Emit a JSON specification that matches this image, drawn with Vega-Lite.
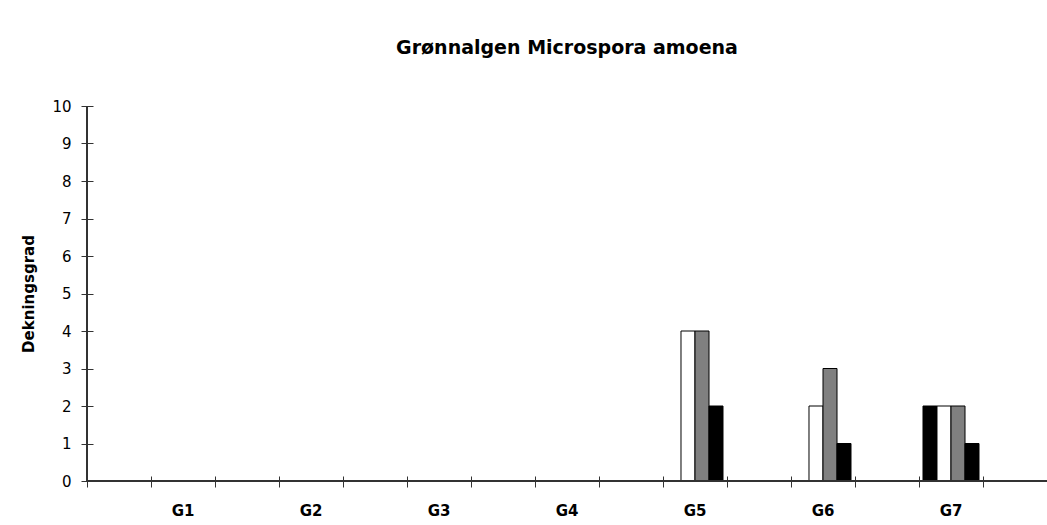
{
  "$schema": "https://vega.github.io/schema/vega-lite/v6.json",
  "autosize": {"type": "none"},
  "width": 960,
  "height": 375,
  "padding": {"left": 87, "top": 106, "right": 0, "bottom": 44},
  "background": "white",
  "title": {
    "text": "Grønnalgen Microspora amoena",
    "font": "DejaVu Sans",
    "fontSize": 19,
    "fontWeight": "bold",
    "color": "black",
    "anchor": "middle",
    "frame": "group",
    "baseline": "alphabetic",
    "offset": 26
  },
  "config": {
    "view": {"stroke": null},
    "axis": {
      "labelFont": "DejaVu Sans",
      "titleFont": "DejaVu Sans",
      "labelColor": "black",
      "titleColor": "black",
      "tickColor": "#333",
      "domain": false,
      "grid": false
    }
  },
  "data": {
    "values": [
      {"gruppe": "G5", "serie": "Serie 1", "verdi": 0},
      {"gruppe": "G5", "serie": "Serie 2", "verdi": 4},
      {"gruppe": "G5", "serie": "Serie 3", "verdi": 4},
      {"gruppe": "G5", "serie": "Serie 4", "verdi": 2},
      {"gruppe": "G6", "serie": "Serie 2", "verdi": 2},
      {"gruppe": "G6", "serie": "Serie 3", "verdi": 3},
      {"gruppe": "G6", "serie": "Serie 4", "verdi": 1},
      {"gruppe": "G7", "serie": "Serie 1", "verdi": 2},
      {"gruppe": "G7", "serie": "Serie 2", "verdi": 2},
      {"gruppe": "G7", "serie": "Serie 3", "verdi": 2},
      {"gruppe": "G7", "serie": "Serie 4", "verdi": 1}
    ]
  },
  "layer": [
    {
      "mark": {"type": "bar", "stroke": "black", "strokeWidth": 1},
      "transform": [{"filter": "datum.verdi > 0"}],
      "encoding": {
        "x": {
          "field": "gruppe",
          "type": "nominal",
          "scale": {
            "domain": ["b0", "G1", "b1", "G2", "b2", "G3", "b3", "G4", "b4", "G5", "b5", "G6", "b6", "G7", "b7"],
            "paddingInner": 0,
            "paddingOuter": 0
          },
          "axis": {
            "title": null,
            "bandPosition": 0,
            "labelAngle": 0,
            "labelExpr": "indexof(datum.value, 'G') == 0 ? datum.value : ''",
            "labelFontSize": 15,
            "labelFontWeight": "bold",
            "labelPadding": 16,
            "tickSize": 11,
            "offset": -5
          }
        },
        "xOffset": {
          "field": "serie",
          "type": "nominal",
          "scale": {
            "domain": ["Serie 1", "Serie 2", "Serie 3", "Serie 4"],
            "paddingInner": 0,
            "paddingOuter": 0.2857
          }
        },
        "y": {
          "field": "verdi",
          "type": "quantitative",
          "scale": {"domain": [0, 10], "nice": false},
          "axis": {
            "title": "Dekningsgrad",
            "values": [0, 1, 2, 3, 4, 5, 6, 7, 8, 9, 10],
            "labelOverlap": false,
            "labelFontSize": 15,
            "labelPadding": 10,
            "tickSize": 12,
            "offset": -6,
            "titleFontSize": 15,
            "titleFontWeight": "bold",
            "titlePadding": 15
          }
        },
        "color": {
          "field": "serie",
          "type": "nominal",
          "scale": {
            "domain": ["Serie 1", "Serie 2", "Serie 3", "Serie 4"],
            "range": ["black", "white", "#808080", "black"]
          },
          "legend": null
        }
      }
    },
    {
      "mark": {"type": "rule", "color": "#333", "strokeWidth": 1},
      "encoding": {
        "x": {
          "datum": "b0",
          "bandPosition": 0,
          "axis": {
            "title": null,
            "bandPosition": 0,
            "labelAngle": 0,
            "labelExpr": "indexof(datum.value, 'G') == 0 ? datum.value : ''",
            "labelFontSize": 15,
            "labelFontWeight": "bold",
            "labelPadding": 16,
            "tickSize": 11,
            "offset": -5
          }
        }
      }
    },
    {
      "mark": {"type": "rule", "color": "#333", "strokeWidth": 1},
      "encoding": {
        "y": {
          "datum": 0,
          "axis": {
            "title": "Dekningsgrad",
            "values": [0, 1, 2, 3, 4, 5, 6, 7, 8, 9, 10],
            "labelOverlap": false,
            "labelFontSize": 15,
            "labelPadding": 10,
            "tickSize": 12,
            "offset": -6,
            "titleFontSize": 15,
            "titleFontWeight": "bold",
            "titlePadding": 15
          }
        }
      }
    }
  ]
}
